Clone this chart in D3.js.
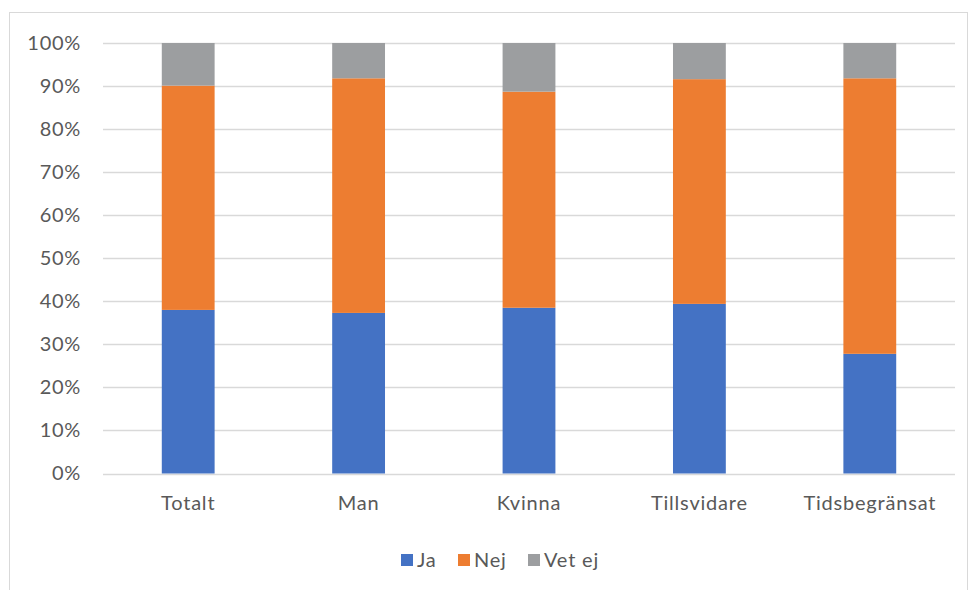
<!DOCTYPE html>
<html>
<head>
<meta charset="utf-8">
<script src="https://cdn.jsdelivr.net/npm/d3@7"></script>
<style>
  html, body { margin: 0; padding: 0; background: #fff; }
  svg { display: block; }
  text { font-family: Lato, "Open Sans", sans-serif; fill: #595959; }
</style>
</head>
<body>
<svg id="chart" width="975" height="590"></svg>
<script>
// Answers per group, share in percent (Ja / Nej / Vet ej)
const categories = ["Totalt", "Man", "Kvinna", "Tillsvidare", "Tidsbegränsat"];
const ja    = [38.0, 37.3, 38.5, 39.4, 27.8];
const nej   = [52.1, 54.5, 50.2, 52.2, 64.0];
const vetEj = [9.9, 8.2, 11.3, 8.4, 8.2];
const seriesNames = ["Ja", "Nej", "Vet ej"];
const seriesColors = ["#4472C4", "#ED7D31", "#9C9EA0"];
const yTicks = [0, 10, 20, 30, 40, 50, 60, 70, 80, 90, 100];

const rows = categories.map((c, i) => ({ cat: c, "Ja": ja[i], "Nej": nej[i], "Vet ej": vetEj[i] }));
const stacked = d3.stack().keys(seriesNames)(rows);

const svg = d3.select("#chart");
const labelFont = "Lato, 'Open Sans', sans-serif";

// chart area frame
svg.append("rect")
  .attr("x", 9.5).attr("y", 12.5)
  .attr("width", 958).attr("height", 600)
  .attr("fill", "#fff")
  .attr("stroke", "#d9d9d9");

const x = d3.scaleBand()
  .domain(categories)
  .range([103, 955])
  .paddingInner(0.69)
  .paddingOuter(0.345);

const y = d3.scaleLinear().domain([0, 100]).range([473.5, 43]);

// horizontal gridlines
svg.append("g")
  .selectAll("line")
  .data(yTicks)
  .join("line")
  .attr("x1", 103).attr("x2", 955)
  .attr("y1", d => Math.round(y(d)) + 0.5)
  .attr("y2", d => Math.round(y(d)) + 0.5)
  .attr("stroke", "#d9d9d9")
  .attr("stroke-width", 1.3);

// y axis labels
const yAxis = svg.append("g")
  .attr("transform", "translate(81,0)")
  .call(d3.axisLeft(y).tickValues(yTicks).tickFormat(d => d + "%").tickSize(0).tickPadding(0));
yAxis.select(".domain").remove();
yAxis.selectAll("text")
  .style("font-family", labelFont)
  .style("letter-spacing", "0.7px")
  .attr("font-size", 20)
  .attr("fill", "#595959");

// stacked bars
svg.append("g")
  .selectAll("g")
  .data(stacked)
  .join("g")
  .attr("fill", (d, i) => seriesColors[i])
  .selectAll("rect")
  .data(d => d)
  .join("rect")
  .attr("x", d => x(d.data.cat))
  .attr("width", x.bandwidth())
  .attr("y", d => y(d[1]))
  .attr("height", d => y(d[0]) - y(d[1]));

// x axis labels
const xAxis = svg.append("g")
  .attr("transform", "translate(0,496)")
  .call(d3.axisBottom(x).tickSize(0).tickPadding(0));
xAxis.select(".domain").remove();
xAxis.selectAll("text")
  .style("font-family", labelFont)
  .style("letter-spacing", "0.8px")
  .attr("font-size", 20)
  .attr("fill", "#595959");

// legend
const legendItems = [
  { name: "Ja", x: 401 },
  { name: "Nej", x: 458 },
  { name: "Vet ej", x: 528 }
];
const legend = svg.append("g");
legendItems.forEach((it, i) => {
  legend.append("rect")
    .attr("x", it.x).attr("y", 554)
    .attr("width", 12).attr("height", 12)
    .attr("fill", seriesColors[i]);
  legend.append("text")
    .attr("x", it.x + 16).attr("y", 567)
    .attr("font-size", 20)
    .style("letter-spacing", "0.8px")
    .text(it.name);
});
</script>
</body>
</html>
